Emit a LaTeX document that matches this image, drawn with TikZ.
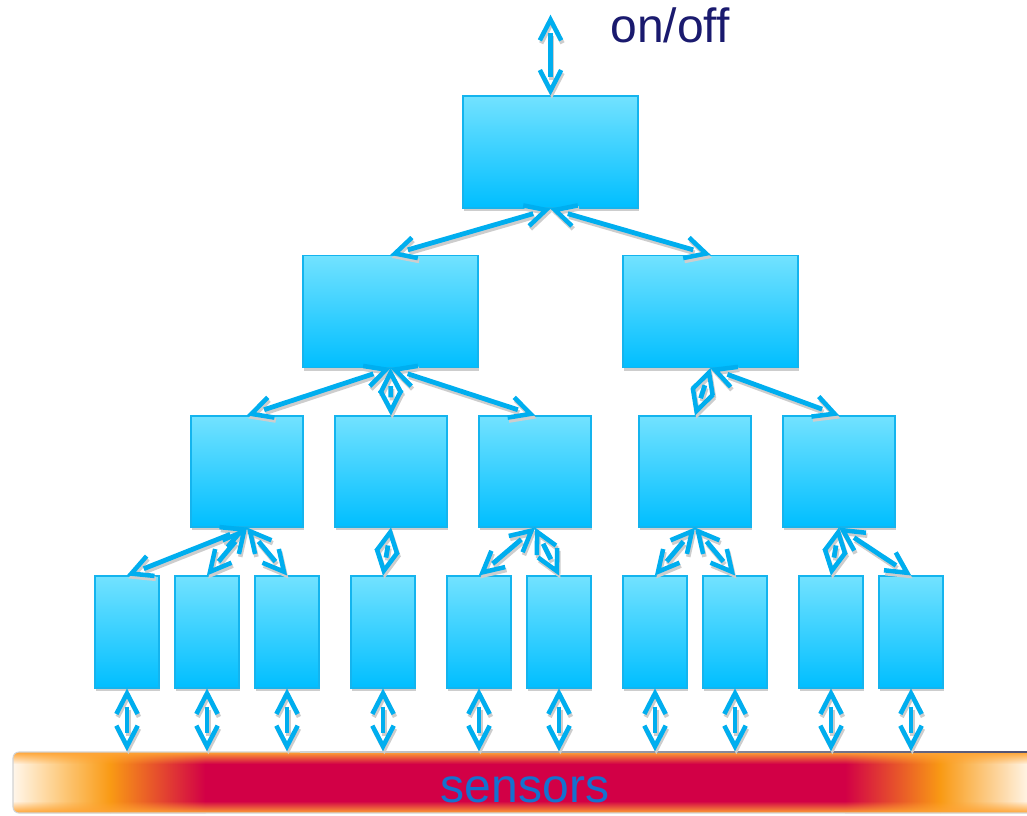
\documentclass[tikz,border=0pt]{standalone}
\usepackage{fontspec}
\setmainfont{Liberation Sans}
\usetikzlibrary{shadows,decorations.markings,fadings}

\definecolor{linkblue}{HTML}{00AEEF}
\definecolor{boxtop}{HTML}{72E2FF}
\definecolor{boxbottom}{HTML}{00BEFF}
\definecolor{boxline}{HTML}{14B4EE}
\definecolor{shadowgray}{HTML}{CDCDCD}
\definecolor{navy}{HTML}{1A1A6E}
\definecolor{labelblue}{HTML}{1472CF}
\definecolor{crimson}{HTML}{D20046}
\definecolor{amber}{HTML}{F99A14}
\definecolor{peach}{HTML}{FDCB80}
\definecolor{cream}{HTML}{FFF6EA}
\definecolor{flame}{HTML}{E8482C}
\definecolor{slate}{HTML}{4F4F70}
\definecolor{rim}{HTML}{FFA434}

\tikzset{
  unit/.style={draw=boxline, line width=1pt, top color=boxtop, bottom color=boxbottom,
    inner sep=0pt,
    drop shadow={shadow xshift=0.6pt, shadow yshift=-2.6pt, fill=shadowgray, opacity=1}},
  wide/.style={unit, minimum width=131.25pt, minimum height=84pt},
  mid/.style={unit, minimum width=84pt, minimum height=83.25pt},
  slim/.style={unit, minimum width=48pt, minimum height=84pt},
  link/.style={draw=#1, line width=3.6pt, shorten <=13.5pt, shorten >=13.5pt,
    postaction={decorate, decoration={markings,
      mark=at position 0 with {\draw[#1, line width=3.4pt, shorten <=0pt, shorten >=0pt]
        (19pt,8pt) -- (3.5pt,0pt) -- (19pt,-8pt);},
      mark=at position 1 with {\draw[#1, line width=3.4pt, shorten <=0pt, shorten >=0pt]
        (-19pt,8pt) -- (-3.5pt,0pt) -- (-19pt,-8pt);}}}},
  link/.default=linkblue,
  link shadow/.style={link=shadowgray, transform canvas={shift={(1pt,-2.2pt)}}},
  caption/.style={anchor=base, font=\fontsize{36}{40}\selectfont},
}

\def\linklist{power/root.north, root.south/m1.north, root.south/m2.north,
  m1.south/n1.north, m1.south/n2.north, m1.south/n3.north,
  m2.south/n4.north, m2.south/n5.north,
  n1.south/p1.north, n1.south/p2.north, n1.south/p3.north,
  n2.south/p4.north, n3.south/p5.north, n3.south/p6.north,
  n4.south/p7.north, n4.south/p8.north, n5.south/p9.north, n5.south/p10.north,
  p1.south/s1, p2.south/s2, p3.south/s3, p4.south/s4, p5.south/s5,
  p6.south/s6, p7.south/s7, p8.south/s8, p9.south/s9, p10.south/s10}

\begin{document}
\begin{tikzpicture}[x=0.75pt, y=-0.75pt]
\useasboundingbox (0,0) rectangle (1027,815);

% sensor strip
\begin{scope}
  \clip[rounded corners=4.5pt] (13,752) rectangle (1040,813);
  \fill[left color=cream, right color=peach] (13,752) rectangle (60.5,813);
  \fill[left color=peach, right color=amber] (60,752) rectangle (110.5,813);
  \fill[left color=amber, middle color=flame, right color=crimson] (110,752) rectangle (205.5,813);
  \fill[crimson] (205,752) rectangle (845.5,813);
  \fill[left color=crimson, middle color=flame, right color=amber] (845,752) rectangle (940.5,813);
  \fill[left color=amber, middle color=peach, right color=cream] (940,752) rectangle (1030,813);
  \fill[rim, path fading=south] (13,752) rectangle (1040,764);
  \fill[rim, path fading=north] (13,801) rectangle (1040,813);
\end{scope}
\draw[gray!35, line width=0.8pt, rounded corners=4.5pt] (13,752) rectangle (1040,813);
\shade[left color=gray!35, right color=slate] (300,751.2) rectangle (1040,752.8);
\node[caption, text=labelblue] (sensors) at (525,802) {sensors};

% control hierarchy
\node[wide] (root) at (550.5,152) {};
\node[wide] (m1) at (390.5,311.5) {};
\node[wide] (m2) at (710.5,311.5) {};
\foreach \i/\x in {1/247, 2/391, 3/535, 4/695, 5/839}
  \node[mid] (n\i) at (\x,471.5) {};
\foreach \i/\x in {1/127, 2/207, 3/287, 4/383, 5/479, 6/559, 7/655, 8/735, 9/831, 10/911} {
  \node[slim] (p\i) at (\x,632) {};
  \coordinate (s\i) at (\x,751);
}
\coordinate (power) at (550.5,15);
\node[caption, text=navy] (onoff) at (670,42) {on/off};

% two-way links
\foreach \a/\b in \linklist \draw[link shadow] (\a) -- (\b);
\foreach \a/\b in \linklist \draw[link] (\a) -- (\b);
\end{tikzpicture}
\end{document}
